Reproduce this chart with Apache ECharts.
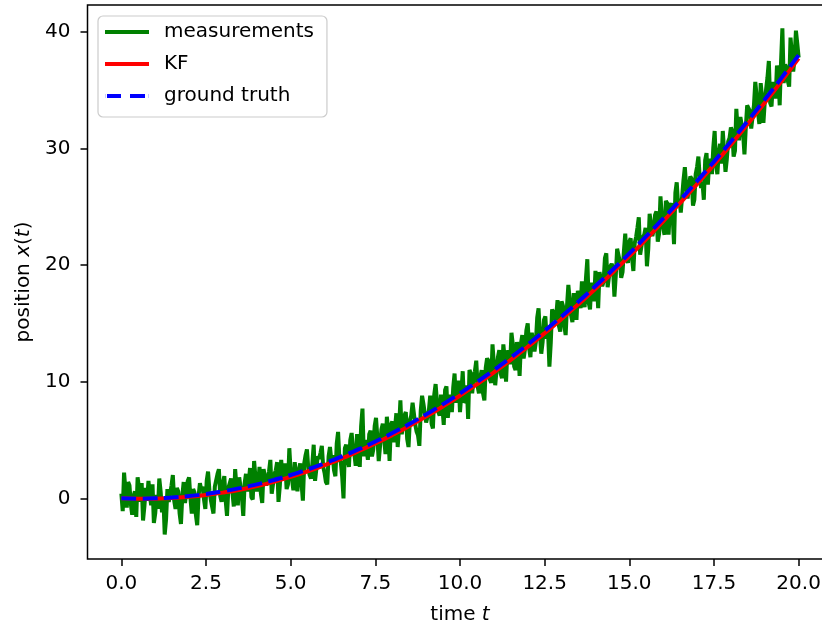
<!DOCTYPE html>
<html>
<head>
<meta charset="utf-8">
<script src="https://cdn.jsdelivr.net/npm/echarts@6/dist/echarts.min.js"></script>
<style>
html,body{margin:0;padding:0;background:#fff;}
#chart{width:822px;height:626px;}
</style>
</head>
<body>
<div id="chart"></div>
<script>
// ---- data ----
const measStep = 0.04; // time between measurement samples
const measurements = [
0.4,-1.1,2.2,0.7,-0.8,1.4,1.1,-0.5,-1.4,0.2,
0.6,-1.6,1.8,0.9,-0.3,1.3,-1.9,-0.7,0.9,-0.2,
1.5,0.3,-0.6,1.2,-2.1,-1.3,0.3,-0.9,1.7,0.6,
-1.2,0.1,-3.1,-1.8,0.8,-0.3,-0.3,1.1,2.0,-0.2,
-0.9,0.9,0.6,-1.3,-2.2,0.2,1.4,-0.4,-0.5,1.5,
1.8,0.0,-1.3,0.8,0.5,-1.4,-2.3,0.2,1.3,0.7,
1.0,-0.1,-0.9,1.5,2.3,0.7,-0.1,-0.7,-1.3,1.0,
0.9,2.1,2.5,0.2,-0.3,1.3,1.9,-0.2,-1.5,0.9,
1.3,1.7,0.5,-0.7,2.5,1.0,-0.6,1.8,1.8,0.1,
-1.5,1.3,2.1,0.6,1.3,2.6,0.1,-0.1,3.2,1.8,
0.6,1.3,2.7,0.4,-0.4,2.5,1.9,1.1,1.1,2.3,
3.3,0.4,0.4,2.1,2.4,3.1,-0.3,1.1,3.3,1.7,
2.0,3.0,0.8,1.2,4.3,2.3,1.6,0.7,3.1,3.0,
0.6,2.4,3.0,1.3,-0.2,3.0,3.7,4.2,2.6,2.0,
1.7,3.0,4.6,1.5,1.4,3.6,3.4,3.9,4.5,2.7,
2.2,1.4,1.2,3.6,4.4,3.3,3.7,2.4,1.9,4.7,
5.7,3.3,3.1,1.9,0.0,4.3,4.6,3.4,2.7,5.0,
5.6,4.3,3.8,2.8,5.5,4.9,2.7,6.2,7.7,3.6,
5.0,4.2,3.3,5.5,5.8,3.6,4.2,6.2,6.9,5.2,
3.2,4.5,5.9,6.4,5.1,3.8,7.0,5.8,3.2,6.3,
6.6,4.8,6.0,7.3,4.4,6.0,8.4,5.5,5.4,7.1,
7.4,5.1,4.4,6.7,7.1,8.2,8.1,6.3,5.7,5.4,
4.5,7.5,8.8,8.1,7.3,6.5,6.5,7.5,8.8,6.4,
6.0,8.9,9.8,8.3,7.4,7.1,8.9,7.8,6.3,9.3,
9.6,6.9,8.1,8.9,7.4,9.5,10.7,8.2,9.3,10.1,
7.4,9.0,10.9,8.2,8.4,9.7,6.8,11.0,10.7,9.0,
10.2,10.9,11.8,9.6,9.0,10.4,11.0,9.0,8.4,11.2,
12.0,11.8,10.2,9.9,13.2,11.5,9.7,11.0,12.1,12.7,
10.7,10.3,13.2,12.0,10.0,12.7,12.2,11.5,14.2,13.2,
11.3,11.0,13.4,12.8,10.5,13.3,14.0,12.0,12.8,14.4,
15.0,12.9,12.1,14.2,14.2,12.6,13.4,15.5,16.3,14.0,
12.4,13.4,15.3,15.6,13.7,14.3,11.3,13.3,16.2,15.9,
15.3,15.6,17.0,14.8,14.3,16.9,16.5,14.8,14.0,16.5,
18.3,17.0,15.7,15.1,17.6,16.8,15.3,17.8,17.4,16.3,
18.6,17.0,16.4,18.9,20.5,16.8,16.2,18.5,18.4,16.9,
19.5,18.6,16.3,19.4,19.5,18.2,18.6,20.6,21.0,18.1,
18.1,19.9,20.1,19.7,17.3,19.1,21.4,21.3,20.3,18.9,
19.4,21.2,22.7,20.5,20.2,22.0,22.3,20.6,19.5,21.9,
22.4,23.2,24.1,20.9,21.0,22.4,22.6,23.2,19.9,21.4,
24.4,23.5,22.5,23.0,24.3,24.6,22.0,22.7,25.9,24.2,
23.2,22.6,25.5,25.3,22.6,25.0,25.3,24.2,21.8,26.2,
27.1,25.2,25.7,24.5,24.6,27.3,28.4,26.7,25.7,25.6,
27.6,27.4,25.1,25.6,27.8,28.4,29.3,27.5,26.6,27.1,
25.6,29.0,29.6,26.9,28.8,29.1,27.8,30.1,31.5,28.6,
27.8,29.6,30.4,28.7,31.5,31.4,28.0,29.1,30.6,30.9,
31.8,31.5,29.3,29.8,33.4,31.6,30.7,32.7,32.7,31.3,
29.5,31.8,33.7,33.7,33.2,31.7,31.8,33.7,35.7,34.5,
33.1,32.1,35.6,34.4,32.2,34.0,35.1,36.1,37.5,33.9,
33.6,35.7,35.7,34.3,37.1,36.6,33.7,37.4,40.3,35.6,
37.2,36.9,35.8,35.3,39.5,38.2,36.6,37.7,40.1,39.0,
37.8
];
const curveStep = 0.5; // time between points of the smooth curves
const kfEstimate = [
0.0,-0.03,-0.03,0.04,0.14,0.29,0.49,0.74,1.05,1.42,
1.84,2.31,2.84,3.41,4.04,4.71,5.43,6.20,7.02,7.89,
8.81,9.78,10.80,11.87,12.99,14.16,15.38,16.65,17.97,19.34,
20.76,22.23,23.75,25.32,26.94,28.61,30.33,32.10,33.92,35.79,
37.72
];
const groundTruth = [
0.0,-0.025,0.0,0.075,0.2,0.375,0.6,0.875,1.2,1.575,
2.0,2.475,3.0,3.575,4.2,4.875,5.6,6.375,7.2,8.075,
9.0,9.975,11.0,12.075,13.2,14.375,15.6,16.875,18.2,19.575,
21.0,22.475,24.0,25.575,27.2,28.875,30.6,32.375,34.2,36.075,
38.0
];
const xTicks = [0, 2.5, 5, 7.5, 10, 12.5, 15, 17.5, 20];
const yTicks = [0, 10, 20, 30, 40];
const seriesNames = ['measurements', 'KF', 'ground truth'];
const seriesColors = ['#008000', '#ff0000', '#0000ff'];

// ---- chart ----
const toPairs = (arr, step) => arr.map((v, i) => [i * step, v]);
const FONT = 'DejaVu Sans';
const LW = 4;
const solidIcon = 'path://M0,0H44V4H0Z';
const dashIcon = 'path://M0,0H0.2V4H0Z M2,0H16V4H2Z M25,0H40V4H25Z M43.8,0H44V4H43.8Z';
const chart = echarts.init(document.getElementById('chart'), null, {renderer: 'canvas'});
chart.setOption({
  animation: false,
  backgroundColor: '#ffffff',
  textStyle: {fontFamily: FONT, color: '#000'},
  grid: {left: 87.5, top: 5, width: 745, height: 554, show: true,
         outerBoundsMode: 'none', containLabel: false,
         borderColor: '#000', borderWidth: 1.5, backgroundColor: 'transparent'},
  legend: {
    orient: 'vertical', left: 98, top: 16,
    data: [
      {name: seriesNames[0], icon: solidIcon},
      {name: seriesNames[1], icon: solidIcon},
      {name: seriesNames[2], icon: dashIcon}
    ],
    symbolKeepAspect: false,
    itemWidth: 44, itemHeight: 4, itemGap: 10,
    padding: [5, 13, 10, 7],
    backgroundColor: 'rgba(255,255,255,0.8)',
    borderColor: '#cccccc', borderWidth: 1.2, borderRadius: 5,
    textStyle: {fontFamily: FONT, fontSize: 20, color: '#000', lineHeight: 22, padding: [0, 0, 0, 10]}
  },
  xAxis: {
    type: 'value', min: -1, max: 21,
    name: '{a|time }{b|t}', nameLocation: 'middle', nameGap: 46,
    nameTextStyle: {rich: {
      a: {fontFamily: FONT, fontSize: 20, color: '#000'},
      b: {fontFamily: FONT, fontSize: 20, color: '#000', fontStyle: 'italic'}}},
    axisLine: {show: false, onZero: false},
    splitLine: {show: false},
    axisTick: {show: true, length: 7, inside: false, customValues: xTicks,
               lineStyle: {color: '#000', width: 1.5}},
    axisLabel: {customValues: xTicks, fontFamily: FONT, fontSize: 20, color: '#000', margin: 15,
                formatter: v => v.toFixed(1)}
  },
  yAxis: {
    type: 'value', min: -5.2, max: 42.3,
    name: '{a|position }{b|x}{a|(}{b|t}{a|)}', nameLocation: 'middle', nameGap: 54, nameRotate: 90,
    nameTextStyle: {rich: {
      a: {fontFamily: FONT, fontSize: 20, color: '#000'},
      b: {fontFamily: FONT, fontSize: 20, color: '#000', fontStyle: 'italic'}}},
    axisLine: {show: false, onZero: false},
    splitLine: {show: false},
    axisTick: {show: true, length: 7, inside: false, customValues: yTicks,
               lineStyle: {color: '#000', width: 1.5}},
    axisLabel: {customValues: yTicks, fontFamily: FONT, fontSize: 20, color: '#000', margin: 17}
  },
  series: [
    {name: seriesNames[0], type: 'line', data: toPairs(measurements, measStep),
     symbol: 'none', showSymbol: false, lineStyle: {color: seriesColors[0], width: LW},
     itemStyle: {color: seriesColors[0]}, z: 2},
    {name: seriesNames[1], type: 'line', data: toPairs(kfEstimate, curveStep), smooth: true,
     symbol: 'none', showSymbol: false, lineStyle: {color: seriesColors[1], width: LW},
     itemStyle: {color: seriesColors[1]}, z: 3},
    {name: seriesNames[2], type: 'line', data: toPairs(groundTruth, curveStep), smooth: true,
     symbol: 'none', showSymbol: false, lineStyle: {color: seriesColors[2], width: LW, type: [14.8, 6.4]},
     itemStyle: {color: seriesColors[2]}, z: 4}
  ]
});
</script>
</body>
</html>
